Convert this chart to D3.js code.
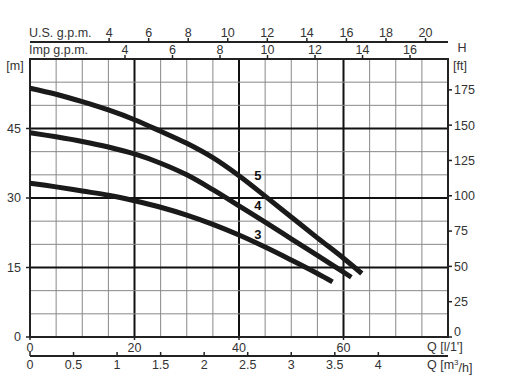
<!DOCTYPE html>
<html>
<head>
<meta charset="utf-8">
<script src="https://cdn.jsdelivr.net/npm/d3@7"></script>
<style>
  body { margin: 0; background: #fff; }
  text { font-family: "Liberation Sans", Arial, sans-serif; fill: #333; }
</style>
</head>
<body>
<div id="chart"></div>
<script>
// flow in l/min and head in m
var q5 = [0, 5, 10, 15, 20, 25, 30, 35, 40, 45, 50, 55, 60, 63.5];
var h5 = [53.7, 52.4, 50.8, 49.0, 46.9, 44.4, 41.8, 38.7, 34.8, 30.4, 25.9, 21.4, 17.0, 13.7];
var q4 = [0, 5, 10, 15, 20, 25, 30, 35, 40, 45, 50, 55, 60, 61.5];
var h4 = [44.1, 43.2, 42.2, 41.0, 39.5, 37.5, 35.0, 31.8, 28.3, 24.8, 21.2, 17.6, 14.0, 12.9];
var q3 = [0, 5, 10, 15, 20, 25, 30, 35, 40, 45, 50, 55, 57.9];
var h3 = [33.2, 32.4, 31.5, 30.6, 29.4, 28.0, 26.3, 24.3, 22.0, 19.4, 16.6, 13.7, 11.9];

var curveNames = ["5", "4", "3"];
var mTicks = [0, 15, 30, 45];
var ftTicks = [0, 25, 50, 75, 100, 125, 150, 175];
var lminTicks = [0, 20, 40, 60];
var m3hTicks = [0, 0.5, 1, 1.5, 2, 2.5, 3, 3.5, 4];
var usTicks = [4, 6, 8, 10, 12, 14, 16, 18, 20];
var impTicks = [4, 6, 8, 10, 12, 14, 16];

var W = 509, H = 376;
var svg = d3.select("#chart").append("svg")
    .attr("width", W).attr("height", H);

var x = d3.scaleLinear().domain([0, 80]).range([30, 448]);
var y = d3.scaleLinear().domain([0, 60]).range([337, 59]);

// secondary units, converted to l/min and m
var xm3h = function(v) { return x(v * 1000 / 60); };
var xus = function(v) { return x(v * 3.785); };
var ximp = function(v) { return x(v * 4.546); };
var yft = function(v) { return y(v * 0.3048); };

// grid
var g = svg.append("g");
g.selectAll(".vg").data(d3.range(5, 80, 5)).enter().append("line")
    .attr("x1", function(d) { return x(d); }).attr("x2", function(d) { return x(d); })
    .attr("y1", y(0)).attr("y2", y(60))
    .attr("stroke", function(d) { return d % 20 == 0 ? "#111" : "#888"; })
    .attr("stroke-width", function(d) { return d % 20 == 0 ? 2 : 1; });
g.selectAll(".hg").data(d3.range(5, 60, 5)).enter().append("line")
    .attr("x1", x(0)).attr("x2", x(80))
    .attr("y1", function(d) { return y(d); }).attr("y2", function(d) { return y(d); })
    .attr("stroke", function(d) { return d % 15 == 0 ? "#111" : "#888"; })
    .attr("stroke-width", function(d) { return d % 15 == 0 ? 2 : 1; });

// frame
g.append("rect")
    .attr("x", x(0)).attr("y", y(60))
    .attr("width", x(80) - x(0)).attr("height", y(0) - y(60))
    .attr("fill", "none").attr("stroke", "#222").attr("stroke-width", 2);

// curves
var line = d3.line()
    .x(function(d) { return x(d[0]); })
    .y(function(d) { return y(d[1]); })
    .curve(d3.curveCatmullRom);
var series = [d3.zip(q5, h5), d3.zip(q4, h4), d3.zip(q3, h3)];
svg.append("g").selectAll("path").data(series).enter().append("path")
    .attr("d", line)
    .attr("fill", "none")
    .attr("stroke", "#1a1a1a")
    .attr("stroke-width", 5)
    .attr("stroke-linecap", "butt");

// curve labels
var labelPos = [[43.6, 34.8], [43.6, 28.3], [43.6, 22.2]];
svg.append("g").selectAll("text").data(curveNames).enter().append("text")
    .attr("x", function(d, i) { return x(labelPos[i][0]); })
    .attr("y", function(d, i) { return y(labelPos[i][1]); })
    .attr("dy", "0.35em").attr("text-anchor", "middle")
    .attr("font-size", 13).attr("font-weight", "bold")
    .style("fill", "#111")
    .text(function(d) { return d; });

// left axis [m]
var ax = svg.append("g").attr("font-size", 12.5);
ax.selectAll(".lt").data(mTicks).enter().append("line")
    .attr("x1", x(0) - 4).attr("x2", x(0))
    .attr("y1", function(d) { return y(d); }).attr("y2", function(d) { return y(d); })
    .attr("stroke", "#222").attr("stroke-width", 1.5);
ax.selectAll(".ll").data(mTicks).enter().append("text")
    .attr("x", 21).attr("y", function(d) { return y(d); })
    .attr("dy", "0.35em").attr("text-anchor", "end")
    .text(function(d) { return d; });
ax.append("text").attr("x", 15).attr("y", 66).attr("dy", "0.35em")
    .attr("text-anchor", "middle").text("[m]");

// right axis [ft]
ax.selectAll(".rt").data(ftTicks).enter().append("line")
    .attr("x1", x(80)).attr("x2", x(80) + 4)
    .attr("y1", function(d) { return yft(d); }).attr("y2", function(d) { return yft(d); })
    .attr("stroke", "#222").attr("stroke-width", 1.5);
ax.selectAll(".rl").data(ftTicks).enter().append("text")
    .attr("x", 454).attr("y", function(d) { return d == 0 ? yft(d) - 5 : yft(d); })
    .attr("dy", "0.35em")
    .text(function(d) { return d; });
ax.append("text").attr("x", 462).attr("y", 48).attr("dy", "0.35em")
    .attr("text-anchor", "middle").text("H");
ax.append("text").attr("x", 453).attr("y", 66).attr("dy", "0.35em").text("[ft]");

// bottom axis l/min
ax.selectAll(".bt").data(lminTicks).enter().append("line")
    .attr("x1", function(d) { return x(d); }).attr("x2", function(d) { return x(d); })
    .attr("y1", y(0)).attr("y2", y(0) + 3)
    .attr("stroke", "#222").attr("stroke-width", 1.5);
ax.selectAll(".bl").data(lminTicks).enter().append("text")
    .attr("x", function(d) { return x(d); }).attr("y", 348)
    .attr("dy", "0.35em").attr("text-anchor", "middle")
    .text(function(d) { return d; });
ax.append("text").attr("x", 427).attr("y", 347).attr("dy", "0.35em").text("Q [l/1']");

// bottom axis m3/h
ax.append("line").attr("x1", x(0)).attr("x2", x(80))
    .attr("y1", 356).attr("y2", 356)
    .attr("stroke", "#222").attr("stroke-width", 2);
ax.selectAll(".ct").data(m3hTicks).enter().append("line")
    .attr("x1", xm3h).attr("x2", xm3h)
    .attr("y1", 352).attr("y2", 356)
    .attr("stroke", "#222").attr("stroke-width", 1.5);
ax.selectAll(".cl").data(m3hTicks).enter().append("text")
    .attr("x", xm3h).attr("y", 365)
    .attr("dy", "0.35em").attr("text-anchor", "middle")
    .text(function(d) { return d; });
var qm = ax.append("text").attr("x", 427).attr("y", 365).attr("dy", "0.35em");
qm.append("tspan").text("Q [m");
qm.append("tspan").attr("font-size", 8).attr("dy", "-0.5em").text("3");
qm.append("tspan").attr("dy", "0.5em").text("/h]");

// top axis U.S. g.p.m.
ax.append("line").attr("x1", x(0)).attr("x2", x(80))
    .attr("y1", 42).attr("y2", 42)
    .attr("stroke", "#222").attr("stroke-width", 2);
ax.selectAll(".ut").data(usTicks).enter().append("line")
    .attr("x1", xus).attr("x2", xus)
    .attr("y1", 38).attr("y2", 42)
    .attr("stroke", "#222").attr("stroke-width", 1.5);
ax.selectAll(".ul").data(usTicks).enter().append("text")
    .attr("x", xus).attr("y", 33)
    .attr("dy", "0.35em").attr("text-anchor", "middle")
    .text(function(d) { return d; });
ax.append("text").attr("x", 29).attr("y", 33).attr("dy", "0.35em").text("U.S. g.p.m.");

// top axis Imp g.p.m.
ax.selectAll(".it").data(impTicks).enter().append("line")
    .attr("x1", ximp).attr("x2", ximp)
    .attr("y1", 55).attr("y2", 59)
    .attr("stroke", "#222").attr("stroke-width", 1.5);
ax.selectAll(".il").data(impTicks).enter().append("text")
    .attr("x", ximp).attr("y", 50)
    .attr("dy", "0.35em").attr("text-anchor", "middle")
    .text(function(d) { return d; });
ax.append("text").attr("x", 29).attr("y", 50).attr("dy", "0.35em").text("Imp g.p.m.");
</script>
</body>
</html>
